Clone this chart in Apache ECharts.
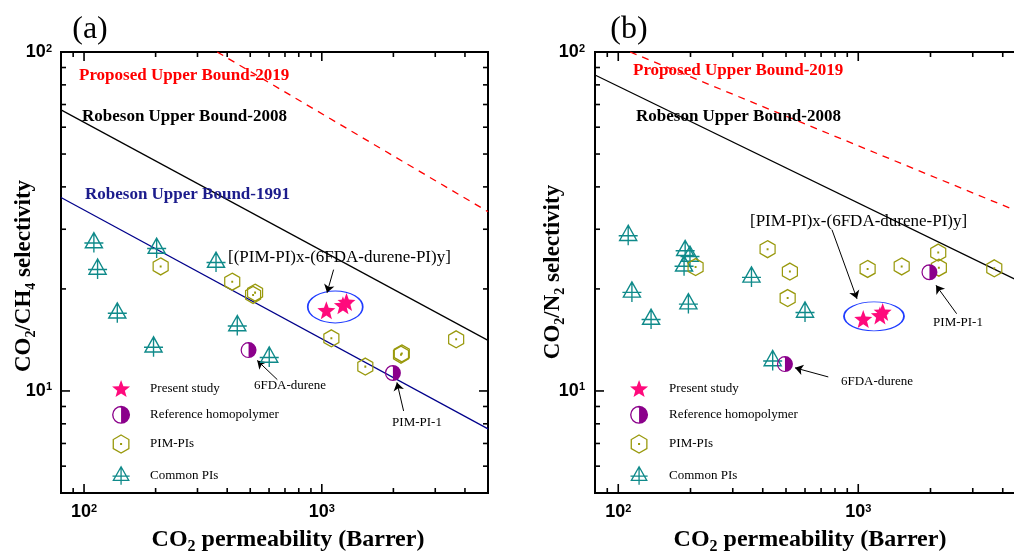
<!DOCTYPE html>
<html>
<head>
<meta charset="utf-8">
<script src="https://cdn.jsdelivr.net/npm/echarts@6.0.0/dist/echarts.min.js"></script>
<style>
html, body { margin: 0; padding: 0; background: #fff; }
#chart { width: 1014px; height: 552px; }
</style>
</head>
<body>
<div id="chart"></div>
<script>
// (a) CO2/CH4 : [CO2 permeability, selectivity]
var commonPIsA = [[110, 27.4], [114, 22.9], [138, 17.0], [196, 13.5], [202, 26.4], [359, 24.0], [441, 15.6], [601, 12.6]];
var pimPIsA = [[210, 23.3], [420, 21.0], [514, 19.2], [524, 19.5], [1097, 14.3], [1524, 11.8], [2153, 12.8], [2170, 12.9], [3673, 14.2]];
var refHomoA = [[492, 13.2], [1991, 11.3]];
var presentA = [[1045, 17.3], [1227, 17.9], [1270, 18.3]];
var upper2019A = [[363, 100], [5000, 33.8]];
var robeson2008A = [[80, 67.5], [5000, 14.1]];
var robeson1991A = [[80, 37.2], [5000, 7.73]];
var ellipseA = [[1139, 17.7]];
var arrowsA = [[[1121, 22.8], [1052, 19.5]], [[650, 10.8], [535, 12.3]], [[2208, 8.73], [2070, 10.6]]];

// (b) CO2/N2
var commonPIsB = [[110, 28.8], [188, 23.4], [190, 26.0], [199, 25.0], [114, 19.6], [137, 16.3], [196, 18.1], [359, 21.7], [440, 12.3], [600, 17.1]];
var pimPIsB = [[210, 23.2], [419, 26.2], [508, 18.8], [519, 22.5], [1094, 22.9], [1517, 23.3], [2154, 25.6], [2167, 23.1], [3688, 23.0]];
var refHomoB = [[495, 12.0], [1980, 22.4]];
var presentB = [[1049, 16.3], [1231, 16.7], [1264, 17.1]];
var upper2019B = [[112, 100], [5000, 33.1]];
var robeson2008B = [[80, 85.5], [5000, 20.6]];
var ellipseB = [[1163, 16.6]];
var arrowsB = [[[777, 29.9], [988, 18.7]], [[750, 11.0], [545, 11.7]], [[2570, 16.9], [2109, 20.5]]];

// ticks
var xMajor = [100, 1000];
var xMinor = [90, 200, 300, 400, 500, 600, 700, 800, 900, 2000, 3000, 4000];
var yMajor = [10, 100];
var yMinor = [6, 7, 8, 9, 20, 30, 40, 50, 60, 70, 80, 90];

var legendNames = ['Present study', 'Reference homopolymer', 'PIM-PIs', 'Common PIs'];

var SERIF = '"Liberation Serif", "Times New Roman", serif';
var SANS = '"Liberation Sans", Arial, sans-serif';

var STAR = 'path://M0,-10L2.47,-3.4L9.51,-3.09L4,1.3L5.88,8.09L0,4.2L-5.88,8.09L-4,1.3L-9.51,-3.09L-2.47,-3.4Z';
var HEX = 'path://M0,-10L8.66,-5L8.66,5L0,10L-8.66,5L-8.66,-5Z M-0.4,-0.4L0.4,-0.4L0.4,0.4L-0.4,0.4Z';
var TRI = 'path://M0,-10L-9,6L9,6Z M0,-10L0,11 M-10,1L10,1';
var HALF = 'path://M0,-10A10,10,0,0,1,0,10Z M0,-10A10,10,0,0,0,0,10L0,8.5A8.5,8.5,0,0,1,0,-8.5Z';

var chart = echarts.init(document.getElementById('chart'));

function powLabel(v) {
    var l = Math.log(v) / Math.LN10;
    var e = Math.round(l);
    if (Math.abs(l - e) > 1e-6) return '';
    return '{b|10}{p|' + e + '}';
}

var labelRich = {
    b: { fontFamily: SANS, fontWeight: 'bold', fontSize: 18, color: '#000' },
    p: { fontFamily: SANS, fontWeight: 'bold', fontSize: 11, color: '#000', verticalAlign: 'top' }
};

function makeAxis(idx, min, max, margin) {
    return {
        type: 'log', logBase: 10, gridIndex: idx, min: min, max: max,
        axisLine: { show: false }, axisTick: { show: false },
        splitLine: { show: false }, minorTick: { show: false },
        axisLabel: { formatter: powLabel, rich: labelRich, margin: margin }
    };
}

function tickSeries(idx) {
    var data = [];
    xMajor.forEach(function (v) { data.push([v, 1]); });
    xMinor.forEach(function (v) { data.push([v, 2]); });
    yMajor.forEach(function (v) { data.push([v, 3]); });
    yMinor.forEach(function (v) { data.push([v, 4]); });
    return {
        type: 'custom', xAxisIndex: idx, yAxisIndex: idx, silent: true, clip: false, z: 5,
        data: data,
        renderItem: function (params, api) {
            var cs = params.coordSys;
            var v = api.value(0), kind = api.value(1);
            var len = (kind === 1 || kind === 3) ? 9 : 5;
            var st = { stroke: '#000', lineWidth: 1.6 };
            var kids;
            if (kind <= 2) {
                var px = api.coord([v, 10])[0];
                kids = [
                    { type: 'line', shape: { x1: px, y1: cs.y + cs.height, x2: px, y2: cs.y + cs.height - len }, style: st },
                    { type: 'line', shape: { x1: px, y1: cs.y, x2: px, y2: cs.y + len }, style: st }
                ];
            } else {
                var py = api.coord([100, v])[1];
                kids = [
                    { type: 'line', shape: { x1: cs.x, y1: py, x2: cs.x + len, y2: py }, style: st },
                    { type: 'line', shape: { x1: cs.x + cs.width, y1: py, x2: cs.x + cs.width - len, y2: py }, style: st }
                ];
            }
            return { type: 'group', children: kids };
        }
    };
}

function boundLine(data, idx, color, dashed, width) {
    return {
        type: 'line', xAxisIndex: idx, yAxisIndex: idx, data: data,
        symbol: 'none', showSymbol: false, silent: true, z: 2,
        lineStyle: { color: color, width: width, type: dashed ? [7, 6] : 'solid' }
    };
}

function pointSeries(name, data, idx, symbol, size, style) {
    style.opacity = 1;
    return {
        type: 'scatter', name: name, xAxisIndex: idx, yAxisIndex: idx, data: data,
        symbol: symbol, symbolSize: size, itemStyle: style, z: 4
    };
}

function panelSeries(idx, d) {
    var s = [];
    if (d.upper2019) s.push(boundLine(d.upper2019, idx, '#ff0000', true, 1.3));
    s.push(boundLine(d.robeson2008, idx, '#000000', false, 1.2));
    if (d.robeson1991) s.push(boundLine(d.robeson1991, idx, '#00008b', false, 1.2));
    s.push(pointSeries('Common PIs', d.common, idx, TRI, [19, 20], { color: 'none', borderColor: '#0f8a8a', borderWidth: 1.4 }));
    s.push(pointSeries('PIM-PIs', d.pim, idx, HEX, [15, 17], { color: 'none', borderColor: '#99990c', borderWidth: 1.3 }));
    s.push(pointSeries('Reference homopolymer', d.ref, idx, HALF, 16, { color: '#8b008b' }));
    s.push(pointSeries('Present study', d.present, idx, STAR, 18, { color: '#ff0a7c' }));
    s.push({
        type: 'scatter', xAxisIndex: idx, yAxisIndex: idx, data: d.ellipse, silent: true,
        symbol: 'circle', symbolSize: d.ellipseSize, z: 3,
        itemStyle: { color: 'none', borderColor: '#1f3cff', borderWidth: 1.3, opacity: 1 }
    });
    s.push({
        type: 'lines', coordinateSystem: 'cartesian2d', xAxisIndex: idx, yAxisIndex: idx, silent: true,
        data: d.arrows.map(function (a) { return { coords: a }; }),
        symbol: ['none', 'arrow'], symbolSize: 8, z: 4,
        lineStyle: { color: '#000', width: 1, opacity: 1, curveness: 0 }
    });
    s.push(tickSeries(idx));
    return s;
}

function legendAt(left, textPad) {
    return {
        data: legendNames, orient: 'vertical', left: left, top: 380, padding: 0,
        itemWidth: 18, itemHeight: 18, itemGap: 8.7, selectedMode: false,
        itemStyle: { borderWidth: 1.3 },
        textStyle: { fontFamily: SERIF, fontSize: 13, color: '#000', padding: [0, 0, 0, textPad] }
    };
}

function txt(x, y, text, font, color, align) {
    return {
        type: 'text', x: x, y: y, silent: true, z: 10,
        style: { text: text, font: font, fill: color, align: align || 'left', verticalAlign: 'middle' }
    };
}

function richTitle(x, y, parts, big, small, lh, rotate) {
    return {
        type: 'text', x: x, y: y, rotation: rotate ? Math.PI / 2 : 0, silent: true, z: 10,
        style: {
            text: parts, align: 'center', verticalAlign: 'middle',
            rich: {
                n: { fontFamily: SERIF, fontWeight: 'bold', fontSize: big, lineHeight: lh, fill: '#000' },
                s: { fontFamily: SERIF, fontWeight: 'bold', fontSize: small, fill: '#000', verticalAlign: 'bottom' }
            }
        }
    };
}

var series = [].concat(
    panelSeries(0, {
        upper2019: upper2019A, robeson2008: robeson2008A, robeson1991: robeson1991A,
        common: commonPIsA, pim: pimPIsA, ref: refHomoA, present: presentA,
        ellipse: ellipseA, ellipseSize: [55, 32], arrows: arrowsA
    }),
    panelSeries(1, {
        upper2019: upper2019B, robeson2008: robeson2008B,
        common: commonPIsB, pim: pimPIsB, ref: refHomoB, present: presentB,
        ellipse: ellipseB, ellipseSize: [60, 29], arrows: arrowsB
    })
);

var boldLbl = 'bold 17px ' + SERIF;
var plainLbl = '17px ' + SERIF;
var smallLbl = '13px ' + SERIF;

var option = {
    animation: false,
    backgroundColor: '#fff',
    grid: [
        { left: 61, top: 52, width: 427, height: 441, show: true, borderColor: '#000', borderWidth: 2,
          backgroundColor: 'transparent', containLabel: false, outerBoundsMode: 'none' },
        { left: 595, top: 52, width: 431, height: 441, show: true, borderColor: '#000', borderWidth: 2,
          backgroundColor: 'transparent', containLabel: false, outerBoundsMode: 'none' }
    ],
    xAxis: [makeAxis(0, 80, 5000, 10), makeAxis(1, 80, 5000, 10)],
    yAxis: [makeAxis(0, 5, 100, 9), makeAxis(1, 5, 100, 10)],
    legend: [legendAt(110, 15), legendAt(628, 16)],
    graphic: [
        txt(90, 30, '(a)', '32px ' + SERIF, '#000', 'center'),
        txt(629, 30, '(b)', '32px ' + SERIF, '#000', 'center'),
        txt(79, 76, 'Proposed Upper Bound-2019', boldLbl, '#ff0000'),
        txt(82, 117, 'Robeson Upper Bound-2008', boldLbl, '#000'),
        txt(85, 195, 'Robeson Upper Bound-1991', boldLbl, '#1c1c8c'),
        txt(228, 258, '[(PIM-PI)x-(6FDA-durene-PI)y]', plainLbl, '#000'),
        txt(290, 386, '6FDA-durene', smallLbl, '#000', 'center'),
        txt(417, 423, 'PIM-PI-1', smallLbl, '#000', 'center'),
        txt(633, 71, 'Proposed Upper Bound-2019', boldLbl, '#ff0000'),
        txt(636, 117, 'Robeson Upper Bound-2008', boldLbl, '#000'),
        txt(750, 222, '[PIM-PI)x-(6FDA-durene-PI)y]', plainLbl, '#000'),
        txt(877, 382, '6FDA-durene', smallLbl, '#000', 'center'),
        txt(958, 323, 'PIM-PI-1', smallLbl, '#000', 'center'),
        richTitle(288, 540, '{n|CO}{s|2}{n| permeability (Barrer)}', 24, 16, 30, false),
        richTitle(810, 540, '{n|CO}{s|2}{n| permeability (Barrer)}', 24, 16, 30, false),
        richTitle(24, 276, '{n|CO}{s|2}{n|/CH}{s|4}{n| selectivity}', 23, 14, 28, true),
        richTitle(553, 272, '{n|CO}{s|2}{n|/N}{s|2}{n| selectivity}', 23, 14, 28, true)
    ],
    series: series
};

chart.setOption(option);
</script>
</body>
</html>
